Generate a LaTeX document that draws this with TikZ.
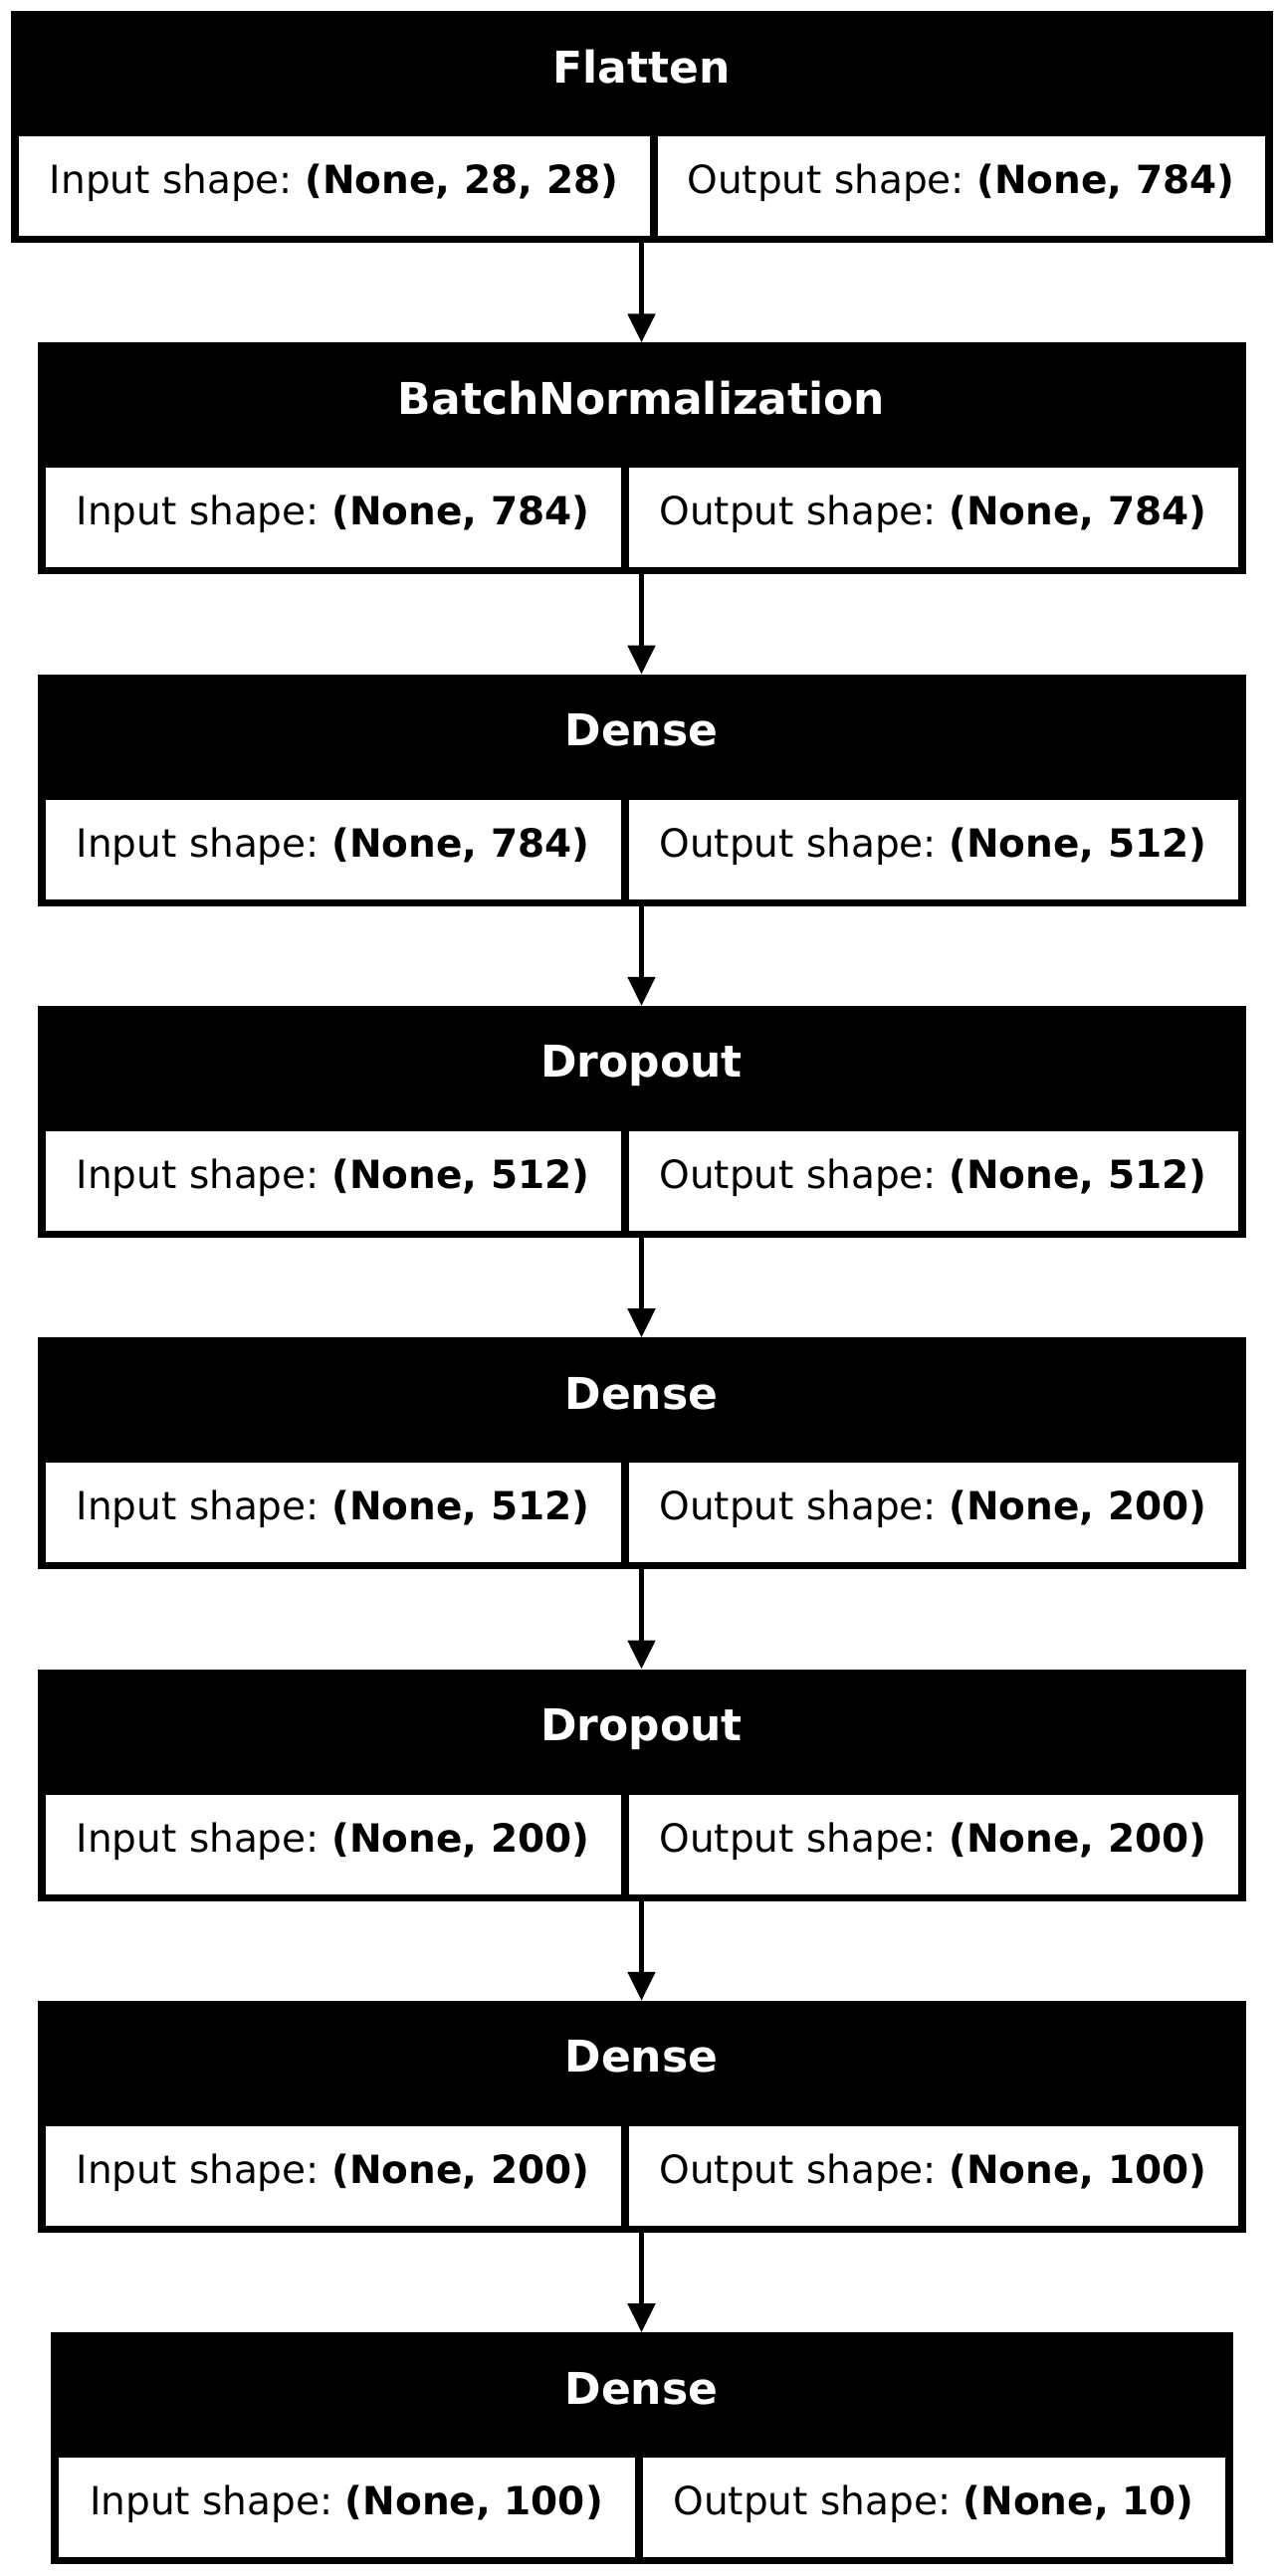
\documentclass[tikz,border=0pt]{standalone}
\usepackage{fontspec}
\setmainfont{DejaVu Sans}
\usepackage{tikz}
\usetikzlibrary{arrows.meta,positioning}
\frenchspacing

\begin{document}
\begin{tikzpicture}[
  x=1pt, y=1pt,
  node distance=100.3pt,
  layerbox/.style={fill=black,inner sep=0pt,outer sep=0pt,minimum height=233pt},
  layername/.style={text=white,anchor=base,inner sep=0pt,font=\fontsize{44pt}{52pt}\selectfont\bfseries},
  cell/.style={fill=white,inner sep=0pt,outer sep=0pt,minimum height=100pt,text height=29pt,text depth=14pt,font=\fontsize{39pt}{47pt}\selectfont},
  incell/.style={cell,anchor=south west},
  outcell/.style={cell,anchor=south east},
  arr/.style={-{Triangle[length=29pt,width=27pt]},line width=5pt}
]
\useasboundingbox (0,0) rectangle (1289,-2589);
% layer blocks
\node[layerbox,minimum width=1268pt] (flat) at (644.5,-127.5) {};
\node[layerbox,minimum width=1214pt,below=of flat] (bnorm) {};
\node[layerbox,minimum width=1214pt,below=of bnorm] (dense1) {};
\node[layerbox,minimum width=1214pt,below=of dense1] (drop1) {};
\node[layerbox,minimum width=1214pt,below=of drop1] (dense2) {};
\node[layerbox,minimum width=1214pt,below=of dense2] (drop2) {};
\node[layerbox,minimum width=1214pt,below=of drop2] (dense3) {};
\node[layerbox,minimum width=1188pt,below=of dense3] (dense4) {};
% layer names
\node[layername] (flat-name) at ([yshift=-72pt]flat.north) {Flatten};
\node[layername] (bnorm-name) at ([yshift=-72pt]bnorm.north) {BatchNormalization};
\node[layername] (dense1-name) at ([yshift=-72pt]dense1.north) {Dense};
\node[layername] (drop1-name) at ([yshift=-72pt]drop1.north) {Dropout};
\node[layername] (dense2-name) at ([yshift=-72pt]dense2.north) {Dense};
\node[layername] (drop2-name) at ([yshift=-72pt]drop2.north) {Dropout};
\node[layername] (dense3-name) at ([yshift=-72pt]dense3.north) {Dense};
\node[layername] (dense4-name) at ([yshift=-72pt]dense4.north) {Dense};
% input / output shapes
\node[incell,minimum width=634pt] (flat-in) at ([shift={(8,7)}]flat.south west) {Input shape: \textbf{(None, 28, 28)}};
\node[outcell,minimum width=610pt] (flat-out) at ([shift={(-8,7)}]flat.south east) {Output shape: \textbf{(None, 784)}};
\node[incell,minimum width=578pt] (bnorm-in) at ([shift={(8,7)}]bnorm.south west) {Input shape: \textbf{(None, 784)}};
\node[outcell,minimum width=612pt] (bnorm-out) at ([shift={(-8,7)}]bnorm.south east) {Output shape: \textbf{(None, 784)}};
\node[incell,minimum width=578pt] (dense1-in) at ([shift={(8,7)}]dense1.south west) {Input shape: \textbf{(None, 784)}};
\node[outcell,minimum width=612pt] (dense1-out) at ([shift={(-8,7)}]dense1.south east) {Output shape: \textbf{(None, 512)}};
\node[incell,minimum width=578pt] (drop1-in) at ([shift={(8,7)}]drop1.south west) {Input shape: \textbf{(None, 512)}};
\node[outcell,minimum width=612pt] (drop1-out) at ([shift={(-8,7)}]drop1.south east) {Output shape: \textbf{(None, 512)}};
\node[incell,minimum width=578pt] (dense2-in) at ([shift={(8,7)}]dense2.south west) {Input shape: \textbf{(None, 512)}};
\node[outcell,minimum width=612pt] (dense2-out) at ([shift={(-8,7)}]dense2.south east) {Output shape: \textbf{(None, 200)}};
\node[incell,minimum width=578pt] (drop2-in) at ([shift={(8,7)}]drop2.south west) {Input shape: \textbf{(None, 200)}};
\node[outcell,minimum width=612pt] (drop2-out) at ([shift={(-8,7)}]drop2.south east) {Output shape: \textbf{(None, 200)}};
\node[incell,minimum width=578pt] (dense3-in) at ([shift={(8,7)}]dense3.south west) {Input shape: \textbf{(None, 200)}};
\node[outcell,minimum width=612pt] (dense3-out) at ([shift={(-8,7)}]dense3.south east) {Output shape: \textbf{(None, 100)}};
\node[incell,minimum width=579pt] (dense4-in) at ([shift={(8,7)}]dense4.south west) {Input shape: \textbf{(None, 100)}};
\node[outcell,minimum width=585pt] (dense4-out) at ([shift={(-8,7)}]dense4.south east) {Output shape: \textbf{(None, 10)}};
% arrows
\draw[arr] (flat) -- (bnorm);
\draw[arr] (bnorm) -- (dense1);
\draw[arr] (dense1) -- (drop1);
\draw[arr] (drop1) -- (dense2);
\draw[arr] (dense2) -- (drop2);
\draw[arr] (drop2) -- (dense3);
\draw[arr] (dense3) -- (dense4);
\end{tikzpicture}
\end{document}
